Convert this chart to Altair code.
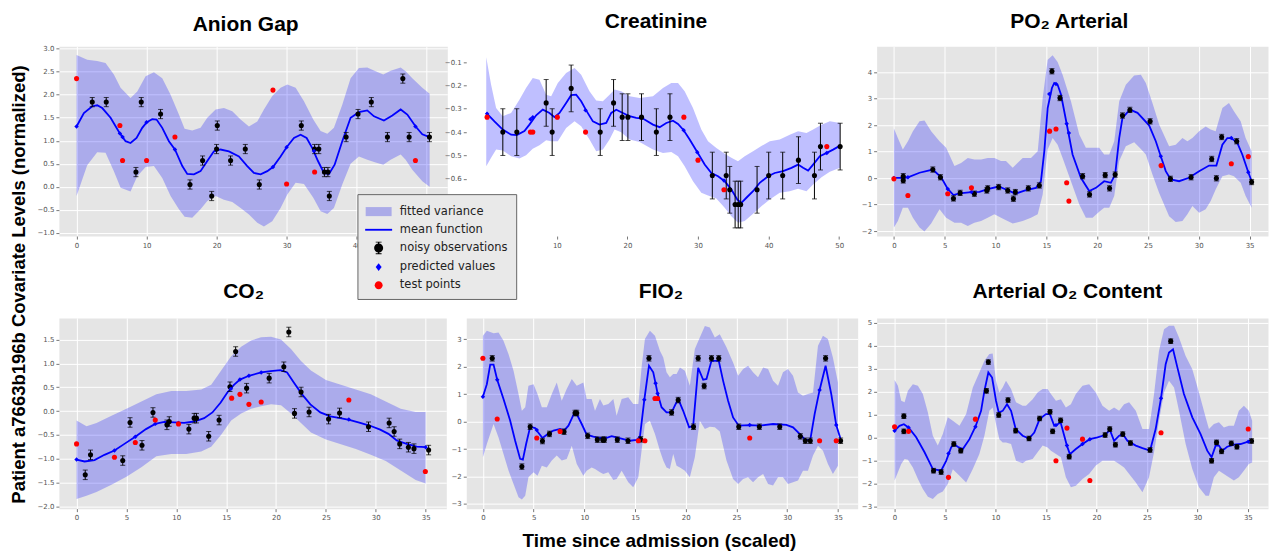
import altair as alt
import pandas as pd

ERR = 0.1

# ---------------- Anion Gap ----------------
AG_BAND_X = [0, 1.52, 2.95, 4.14, 5.33, 6.29, 7.71, 8.67, 9.86, 11.05, 12.24, 13.43, 14.62, 15.43, 16.52, 17.71, 18.67, 19.86, 21.05, 22.24, 23.43, 24.62, 25.81, 26.76, 27.95, 29.14, 30.1, 31.29, 32.48, 33.81, 34.86, 35.81, 36.76, 37.95, 39.14, 40.33, 41.52, 42.71, 43.81, 44.86, 46.29, 47.0, 47.95, 49.38, 50.43]
AG_BAND_HI = [2.86, 2.76, 2.73, 2.69, 2.44, 2.15, 1.93, 2.07, 2.40, 2.49, 2.36, 2.00, 1.57, 1.26, 1.22, 1.28, 1.50, 1.68, 1.71, 1.64, 1.46, 1.31, 1.42, 1.68, 1.97, 2.15, 2.22, 2.15, 1.86, 1.46, 1.21, 1.15, 1.28, 1.78, 2.36, 2.58, 2.59, 2.51, 2.44, 2.52, 2.59, 2.51, 2.36, 2.15, 2.02]
AG_BAND_LO = [-0.20, 0.47, 0.75, 0.74, 0.34, -0.02, -0.10, 0.23, 0.43, 0.45, 0.19, -0.20, -0.49, -0.65, -0.67, -0.49, -0.31, -0.20, -0.28, -0.33, -0.46, -0.60, -0.78, -0.86, -0.75, -0.46, -0.17, 0.09, 0.06, -0.24, -0.53, -0.59, -0.46, 0.05, 0.50, 0.66, 0.59, 0.53, 0.48, 0.59, 0.70, 0.59, 0.37, 0.12, 0.00]
AG_MEAN_X = [0, 1.05, 2.24, 2.95, 3.67, 4.86, 6.19, 7.0, 7.71, 8.57, 9.38, 10.0, 10.81, 11.43, 12.24, 13.19, 14.05, 15.1, 15.81, 16.76, 17.71, 18.67, 19.62, 20.57, 21.76, 23.19, 24.38, 25.33, 26.29, 27.24, 28.05, 29.14, 30.0, 31.05, 32.0, 32.86, 33.67, 34.48, 35.33, 36.05, 36.86, 37.95, 39.14, 40.33, 41.52, 42.48, 43.9, 45.1, 46.29, 47.24, 48.43, 49.38, 50.43]
AG_MEAN_Y = [1.31, 1.60, 1.75, 1.77, 1.71, 1.50, 1.16, 0.99, 0.95, 1.06, 1.28, 1.40, 1.47, 1.46, 1.28, 0.99, 0.81, 0.45, 0.28, 0.27, 0.34, 0.56, 0.77, 0.81, 0.77, 0.66, 0.45, 0.30, 0.27, 0.34, 0.43, 0.66, 0.86, 1.06, 1.13, 1.06, 0.84, 0.56, 0.30, 0.28, 0.48, 0.99, 1.50, 1.62, 1.66, 1.53, 1.44, 1.55, 1.68, 1.57, 1.31, 1.14, 1.08]
AG_OBS_X = [2.24, 4.24, 8.48, 9.24, 12.0, 16.2, 18.0, 19.3, 20.0, 20.1, 22.0, 24.1, 26.1, 32.1, 34.0, 34.6, 35.4, 35.9, 36.1, 38.5, 40.2, 42.1, 44.4, 46.6, 47.5, 50.4]
AG_OBS_Y = [1.84, 1.84, 0.32, 1.84, 1.58, 0.05, 0.57, -0.20, 0.82, 1.33, 0.57, 0.82, 0.05, 1.33, 0.82, 0.82, 0.32, 0.32, -0.20, 1.08, 1.58, 1.84, 1.08, 2.35, 1.08, 1.08]
AG_PRED_X = [0, 6.19, 6.57, 10.0, 14.05, 28.05, 30.0, 33.9, 48.4]
AG_PRED_Y = [1.31, 1.16, 1.08, 1.40, 0.81, 0.43, 0.86, 0.78, 1.31]
AG_TEST_X = [0, 6.19, 6.57, 10.0, 14.05, 28.05, 30.0, 34.0, 48.4]
AG_TEST_Y = [2.35, 1.33, 0.57, 0.57, 1.08, 2.10, 0.06, 0.32, 0.57]

# ---------------- Creatinine ----------------
CR_BAND_X = [0, 0.69, 1.4, 2.34, 3.52, 4.7, 5.64, 6.59, 7.54, 8.49, 9.2, 10.14, 11.32, 12.51, 13.45, 14.63, 15.58, 16.52, 17.47, 18.18, 19.12, 20.31, 21.73, 23.62, 25.04, 26.22, 27.17, 28.11, 29.29, 30.47, 31.42, 32.6, 33.78, 34.73, 35.67, 36.62, 37.8, 38.98, 40.17, 41.58, 43.0, 44.18, 45.37, 46.31, 47.5, 48.68, 50.14]
CR_BAND_HI = [-0.080, -0.197, -0.297, -0.332, -0.318, -0.261, -0.211, -0.168, -0.176, -0.240, -0.247, -0.190, -0.147, -0.126, -0.154, -0.225, -0.265, -0.268, -0.240, -0.218, -0.225, -0.247, -0.254, -0.247, -0.211, -0.190, -0.190, -0.225, -0.297, -0.389, -0.439, -0.468, -0.493, -0.510, -0.525, -0.503, -0.482, -0.460, -0.439, -0.432, -0.411, -0.396, -0.404, -0.389, -0.368, -0.354, -0.361]
CR_BAND_LO = [-0.546, -0.510, -0.475, -0.479, -0.503, -0.513, -0.499, -0.471, -0.456, -0.435, -0.439, -0.439, -0.382, -0.354, -0.375, -0.432, -0.482, -0.475, -0.432, -0.389, -0.401, -0.432, -0.442, -0.475, -0.489, -0.485, -0.503, -0.546, -0.610, -0.660, -0.671, -0.684, -0.724, -0.760, -0.788, -0.781, -0.750, -0.717, -0.689, -0.660, -0.653, -0.642, -0.653, -0.624, -0.593, -0.570, -0.553]
CR_MEAN_X = [0, 1.16, 2.34, 3.52, 4.33, 5.41, 6.12, 7.07, 8.01, 8.96, 9.67, 10.38, 11.32, 12.03, 12.74, 13.45, 14.16, 15.11, 16.05, 17.0, 17.71, 18.42, 19.36, 20.31, 21.25, 22.2, 23.62, 24.57, 25.51, 26.46, 27.17, 27.97, 28.82, 29.91, 30.95, 31.9, 32.84, 33.78, 34.73, 35.58, 36.15, 36.86, 37.8, 38.75, 39.93, 40.87, 42.06, 43.24, 44.18, 44.89, 45.6, 46.31, 47.26, 48.25, 49.14, 50.14]
CR_MEAN_Y = [-0.318, -0.354, -0.389, -0.411, -0.413, -0.396, -0.368, -0.328, -0.304, -0.318, -0.336, -0.318, -0.275, -0.242, -0.240, -0.268, -0.307, -0.354, -0.368, -0.361, -0.318, -0.304, -0.318, -0.332, -0.339, -0.342, -0.368, -0.379, -0.361, -0.351, -0.365, -0.392, -0.432, -0.486, -0.539, -0.575, -0.589, -0.610, -0.646, -0.689, -0.703, -0.681, -0.653, -0.617, -0.589, -0.575, -0.567, -0.553, -0.539, -0.553, -0.565, -0.539, -0.503, -0.489, -0.475, -0.458]
CR_OBS_X = [2.35, 4.33, 8.49, 9.34, 12.03, 16.15, 18.04, 19.26, 20.07, 22.0, 24.1, 26.03, 32.03, 34.0, 34.5, 35.26, 35.7, 36.05, 38.37, 40.02, 42.0, 44.23, 46.5, 47.35, 50.14]
CR_OBS_Y = [-0.40, -0.40, -0.275, -0.40, -0.213, -0.40, -0.275, -0.336, -0.336, -0.336, -0.40, -0.336, -0.586, -0.586, -0.647, -0.71, -0.71, -0.71, -0.647, -0.586, -0.586, -0.52, -0.586, -0.462, -0.462]
CR_PRED_X = [0.12, 6.26, 6.6, 10.07, 14.07, 27.97, 29.9, 33.68, 48.25]
CR_PRED_Y = [-0.321, -0.345, -0.336, -0.336, -0.307, -0.392, -0.486, -0.607, -0.489]
CR_TEST_X = [0.12, 6.26, 6.6, 10.07, 14.07, 28.0, 30.0, 33.68, 48.25]
CR_TEST_Y = [-0.336, -0.40, -0.40, -0.336, -0.40, -0.336, -0.52, -0.647, -0.462]

# ---------------- PO2 Arterial ----------------
PO_BAND_X = [0, 0.39, 0.88, 1.38, 1.87, 2.52, 3.01, 3.67, 4.49, 5.14, 5.96, 6.61, 7.27, 7.92, 8.58, 9.23, 9.89, 10.54, 11.03, 11.69, 12.67, 13.49, 14.15, 14.64, 15.13, 15.62, 16.11, 16.6, 17.42, 18.24, 18.89, 19.55, 20.2, 20.69, 21.19, 21.68, 22.17, 22.82, 23.64, 24.3, 24.79, 25.44, 26.1, 27.08, 27.73, 28.39, 28.88, 29.37, 30.03, 30.68, 31.17, 31.66, 32.32, 32.97, 33.46, 34.12, 34.61, 35.2]
PO_BAND_HI = [1.87, 1.51, 1.08, 1.39, 1.77, 2.14, 2.17, 1.77, 1.39, 1.14, 0.45, 0.57, 0.76, 0.70, 0.70, 0.76, 0.76, 0.64, 0.64, 0.39, 0.76, 0.76, 1.01, 3.02, 4.46, 4.63, 4.38, 3.90, 2.90, 1.64, 1.14, 1.14, 1.14, 0.89, 0.89, 1.39, 2.90, 3.52, 3.87, 3.90, 3.59, 2.83, 2.02, 1.20, 1.26, 1.51, 1.39, 1.51, 1.77, 1.95, 1.83, 1.77, 2.64, 2.83, 2.52, 2.14, 1.51, 1.01]
PO_BAND_LO = [-1.87, -1.62, -1.12, -1.12, -1.50, -1.87, -2.02, -1.72, -1.18, -1.50, -1.69, -1.69, -1.81, -1.69, -1.62, -1.50, -1.37, -1.50, -1.59, -1.72, -1.62, -1.50, -1.37, -0.62, 1.08, 1.51, 1.26, 0.76, -0.12, -1.00, -1.50, -1.50, -1.27, -1.12, -1.12, -0.68, 0.64, 1.20, 1.35, 1.10, 0.89, 0.13, -0.56, -1.44, -1.66, -1.62, -1.37, -1.06, -1.31, -1.18, -0.87, -0.43, 0.07, 0.13, 0.07, -0.18, -0.68, -1.12]
PO_MEAN_X = [0, 0.88, 1.38, 2.52, 3.83, 4.65, 5.3, 5.86, 6.45, 7.63, 8.42, 9.23, 10.31, 11.2, 11.95, 13.0, 13.98, 14.47, 14.8, 15.13, 15.55, 15.78, 16.11, 16.44, 17.0, 17.58, 18.4, 19.22, 19.88, 20.69, 21.35, 21.77, 22.17, 22.49, 23.22, 23.97, 25.11, 25.77, 26.26, 26.75, 27.24, 28.06, 29.04, 30.03, 31.01, 31.73, 32.32, 32.81, 33.2, 33.79, 34.28, 34.87, 35.2]
PO_MEAN_Y = [0.01, 0.01, 0.03, 0.20, 0.32, 0.03, -0.41, -0.64, -0.58, -0.53, -0.52, -0.42, -0.32, -0.46, -0.59, -0.46, -0.37, -0.12, 1.01, 2.64, 3.40, 3.59, 3.52, 3.15, 2.05, 0.89, 0.01, -0.49, -0.37, -0.12, -0.18, 0.13, 1.51, 2.27, 2.58, 2.46, 1.99, 1.39, 0.82, 0.26, -0.05, -0.12, 0.01, 0.26, 0.47, 0.47, 1.26, 1.51, 1.51, 1.33, 0.89, 0.22, -0.12]
PO_OBS_X = [0.92, 0.92, 3.83, 4.58, 5.86, 6.52, 7.92, 9.14, 9.23, 10.31, 11.2, 11.76, 11.95, 13.23, 14.31, 15.55, 16.34, 18.57, 19.25, 20.79, 21.22, 21.77, 22.49, 23.22, 25.21, 27.21, 29.24, 31.27, 31.73, 32.25, 33.73, 35.2]
PO_OBS_Y = [0.07, -0.09, 0.32, 0.03, -0.77, -0.56, -0.59, -0.47, -0.39, -0.34, -0.47, -0.78, -0.53, -0.39, -0.28, 4.03, 3.02, 0.07, -0.62, 0.11, -0.39, 0.13, 2.36, 2.57, 2.14, -0.03, 0.03, 0.72, -0.01, 1.55, 1.39, -0.15]
PO_PRED_X = [0, 1.38, 5.3, 7.63, 15.29, 15.95, 17.0, 17.22, 26.26, 33.2, 34.87]
PO_PRED_Y = [0.0, 0.03, -0.41, -0.53, 3.17, 3.55, 2.05, 1.70, 0.82, 1.51, 0.22]
PO_TEST_X = [0, 1.38, 5.3, 7.63, 15.32, 15.95, 17.0, 17.22, 26.29, 33.2, 34.87]
PO_TEST_Y = [-0.03, -0.66, -0.59, -0.37, 1.77, 1.85, -0.18, -0.87, 0.47, 0.54, 0.81]

# ---------------- CO2 ----------------
CO_BAND_X = [0, 1, 2, 3.5, 5, 6.5, 8, 9.5, 11, 12.5, 13.5, 14.5, 15.5, 16.5, 17.5, 18.5, 19.5, 20.5, 21.5, 22.5, 23.5, 25, 26.5, 28, 29.5, 31, 32.5, 34, 35]
CO_BAND_HI = [-0.20, -0.32, -0.25, -0.10, 0.05, 0.20, 0.35, 0.42, 0.42, 0.45, 0.55, 0.85, 1.15, 1.35, 1.48, 1.55, 1.56, 1.50, 1.30, 1.05, 0.85, 0.65, 0.55, 0.45, 0.35, 0.20, 0.05, -0.02, -0.02]
CO_BAND_LO = [-1.85, -1.78, -1.70, -1.55, -1.38, -1.18, -0.95, -0.90, -0.90, -0.85, -0.75, -0.50, -0.20, -0.05, 0.05, 0.10, 0.14, 0.12, -0.05, -0.25, -0.45, -0.60, -0.70, -0.80, -0.92, -1.05, -1.25, -1.45, -1.52]
CO_MEAN_X = [0, 0.8, 1.8, 2.8, 3.8, 4.8, 5.89, 6.96, 7.89, 8.79, 9.79, 10.79, 11.79, 12.79, 13.62, 14.45, 15.12, 15.78, 16.38, 17.28, 18.51, 19.45, 20.45, 21.11, 21.78, 22.61, 23.44, 24.44, 25.44, 26.44, 27.44, 28.44, 29.44, 30.44, 31.27, 32.1, 33.1, 34.1, 35.0]
CO_MEAN_Y = [-1.02, -1.06, -1.03, -0.92, -0.83, -0.69, -0.54, -0.38, -0.27, -0.23, -0.24, -0.25, -0.22, -0.15, -0.03, 0.18, 0.39, 0.55, 0.66, 0.74, 0.81, 0.84, 0.86, 0.81, 0.60, 0.35, 0.14, -0.03, -0.11, -0.15, -0.19, -0.25, -0.31, -0.39, -0.48, -0.62, -0.69, -0.75, -0.76]
CO_OBS_X = [0.87, 1.40, 4.63, 5.36, 6.56, 7.66, 9.06, 9.29, 11.26, 11.79, 12.02, 13.25, 14.29, 15.38, 15.95, 17.05, 19.31, 20.78, 21.28, 21.85, 22.51, 23.31, 25.27, 26.37, 29.27, 31.34, 31.84, 32.4, 33.27, 33.83, 35.3]
CO_OBS_Y = [-1.34, -0.92, -1.04, -0.24, -0.72, -0.03, -0.29, -0.22, -0.38, -0.15, -0.15, -0.53, -0.19, 0.51, 1.25, 0.48, 0.69, 0.93, 1.66, -0.05, 0.40, -0.02, -0.17, -0.04, -0.33, -0.25, -0.43, -0.69, -0.76, -0.79, -0.82]
CO_PRED_X = [0, 3.8, 5.89, 7.89, 10.22, 15.48, 16.38, 17.28, 18.51, 27.3, 35.0]
CO_PRED_Y = [-1.02, -0.83, -0.54, -0.27, -0.25, 0.47, 0.66, 0.74, 0.81, -0.18, -0.76]
CO_TEST_X = [0, 3.8, 5.89, 7.89, 10.22, 15.55, 16.38, 17.28, 18.51, 27.3, 34.97]
CO_TEST_Y = [-0.69, -0.97, -0.66, -0.19, -0.27, 0.27, 0.35, 0.14, 0.19, 0.23, -1.27]

# ---------------- FIO2 ----------------
FI_BAND_X = [0, 0.39, 1.05, 1.54, 2.03, 2.53, 3.02, 3.51, 3.84, 4.17, 4.49, 4.99, 5.38, 5.81, 6.3, 6.79, 7.28, 7.77, 8.26, 8.76, 9.25, 9.9, 10.23, 10.72, 11.05, 11.54, 11.87, 12.36, 12.86, 13.18, 13.68, 14.33, 14.82, 15.32, 15.64, 15.97, 16.46, 16.96, 17.45, 17.78, 18.1, 18.43, 18.76, 19.09, 19.42, 19.91, 20.4, 20.89, 21.38, 21.88, 22.37, 22.86, 23.35, 24.01, 24.66, 25.16, 25.65, 26.14, 26.63, 27.12, 27.62, 28.11, 28.6, 29.09, 29.58, 30.07, 30.57, 31.06, 31.55, 32.04, 32.54, 33.03, 33.52, 34.01, 34.5, 35.0]
FI_BAND_HI = [3.12, 3.30, 3.21, 3.24, 2.94, 2.45, 1.85, 1.0, 0.39, 0.52, 1.30, 1.36, 1.0, 0.52, 0.52, 1.0, 1.42, 0.76, 1.18, 1.55, 1.30, 1.42, 0.82, 0.82, 0.39, 0.82, 0.58, 0.64, 0.82, 0.21, 0.82, 0.88, 0.64, 0.64, 1.97, 3.0, 3.30, 3.12, 2.58, 2.33, 1.79, 1.61, 1.73, 1.73, 1.97, 1.85, 1.30, 2.64, 3.06, 3.48, 3.42, 3.06, 3.18, 2.70, 2.15, 1.67, 1.91, 2.03, 1.79, 1.61, 1.97, 1.91, 1.48, 1.30, 1.79, 1.91, 1.67, 1.06, 0.94, 1.0, 1.06, 2.76, 3.12, 3.0, 2.33, 1.42]
FI_BAND_LO = [-1.30, -0.82, -0.09, -0.58, -1.18, -1.79, -2.27, -2.76, -2.84, -2.70, -2.03, -1.85, -1.97, -1.61, -1.67, -1.42, -1.24, -1.42, -1.36, -0.88, -1.55, -1.97, -1.79, -1.67, -1.73, -1.85, -1.91, -1.85, -2.13, -2.09, -1.79, -2.21, -2.39, -2.03, -1.06, -0.09, 0.03, -0.45, -1.06, -1.42, -1.67, -1.73, -1.18, -1.61, -1.67, -1.79, -2.03, -1.30, 0.03, -0.27, -0.19, -0.21, -0.36, -1.42, -2.09, -2.27, -2.09, -2.03, -2.21, -2.03, -1.91, -2.27, -2.33, -2.03, -2.03, -2.27, -2.21, -2.15, -1.79, -1.79, -1.24, -0.88, -1.06, -1.55, -1.91, -1.61]
FI_MEAN_X = [0, 0.39, 0.72, 1.05, 1.41, 2.03, 2.69, 3.18, 3.67, 3.94, 4.26, 4.66, 5.15, 5.38, 5.87, 6.3, 6.95, 7.61, 8.0, 8.43, 8.92, 9.25, 9.74, 10.23, 10.89, 11.54, 12.2, 12.69, 13.18, 13.84, 14.5, 15.15, 15.48, 15.91, 16.37, 16.79, 17.02, 17.22, 17.61, 18.1, 18.6, 18.92, 19.25, 19.74, 20.33, 20.73, 21.22, 21.71, 22.04, 22.53, 23.25, 23.68, 24.17, 24.66, 25.22, 26.3, 27.29, 28.6, 29.91, 30.57, 31.22, 31.78, 32.27, 32.7, 33.19, 33.78, 34.34, 34.83, 35.26]
FI_MEAN_Y = [0.90, 1.36, 2.07, 2.07, 1.52, 0.82, 0.03, -0.70, -1.36, -1.39, -0.82, -0.19, -0.24, -0.36, -0.60, -0.48, -0.33, -0.27, -0.33, -0.15, 0.24, 0.27, -0.09, -0.48, -0.55, -0.60, -0.59, -0.53, -0.58, -0.64, -0.70, -0.67, -0.55, 0.79, 2.03, 1.79, 1.39, 1.02, 0.52, 0.33, 0.33, 0.58, 0.82, 0.39, -0.21, -0.15, 1.95, 1.52, 1.55, 2.21, 2.21, 1.48, 0.76, 0.15, -0.15, -0.13, -0.15, -0.09, -0.12, -0.21, -0.45, -0.67, -0.67, 0.27, 1.15, 2.03, 1.0, -0.13, -0.64]
FI_OBS_X = [0.92, 3.84, 4.66, 5.87, 6.56, 8.0, 9.08, 9.25, 10.33, 11.28, 11.81, 11.97, 13.25, 14.3, 15.55, 16.37, 18.6, 19.25, 20.76, 21.22, 21.81, 22.53, 23.25, 25.22, 27.25, 29.26, 31.29, 31.78, 32.27, 33.78, 35.26]
FI_OBS_Y = [2.30, -1.64, -0.19, -0.71, -0.45, -0.37, 0.31, 0.31, -0.52, -0.66, -0.66, -0.66, -0.66, -0.70, -0.65, 2.30, 0.33, 0.78, -0.19, 2.30, 1.29, 2.30, 2.30, -0.19, -0.19, -0.19, -0.54, -0.70, -0.70, 2.30, -0.70]
FI_PRED_X = [0, 1.41, 5.31, 7.61, 15.32, 15.91, 17.02, 17.22, 26.3, 33.19, 34.83]
FI_PRED_Y = [0.90, 1.52, -0.31, -0.33, -0.68, 0.79, 1.39, 1.02, -0.13, 1.15, -0.13]
FI_TEST_X = [0, 1.41, 5.31, 7.61, 15.32, 15.97, 16.96, 17.22, 26.3, 33.19, 34.83]
FI_TEST_Y = [2.30, 0.09, -0.60, -0.36, -0.70, -0.70, 0.84, 0.84, -0.60, -0.70, -0.70]

# ---------------- Arterial O2 Content ----------------
AO_BAND_X = [0, 0.33, 0.66, 0.99, 1.32, 1.81, 2.31, 2.8, 3.3, 3.79, 4.28, 4.78, 5.27, 5.77, 6.43, 7.09, 7.75, 8.4, 8.9, 9.39, 9.72, 10.05, 10.38, 10.71, 11.04, 11.54, 12.03, 12.69, 13.02, 13.68, 14.17, 14.67, 15.16, 15.49, 15.99, 16.48, 16.97, 17.47, 17.96, 18.62, 19.28, 19.94, 20.6, 21.26, 21.75, 22.25, 22.74, 23.24, 23.9, 24.56, 25.21, 25.71, 26.2, 26.7, 27.19, 27.69, 28.18, 28.84, 29.5, 30.16, 30.82, 31.15, 31.64, 32.14, 32.63, 33.12, 33.62, 34.11, 34.61, 35.1, 35.43]
AO_BAND_HI = [2.50, 2.25, 1.60, 1.53, 2.03, 2.32, 2.25, 1.89, 1.09, 0.08, -0.35, 0.15, 0.88, 0.73, 0.51, 1.02, 2.18, 2.83, 3.34, 3.63, 3.65, 2.47, 1.96, 2.18, 2.47, 2.11, 1.53, 1.38, 1.38, 1.67, 1.96, 2.11, 2.11, 1.89, 1.60, 1.67, 1.31, 1.45, 1.89, 2.25, 2.32, 1.96, 1.38, 1.16, 1.31, 1.16, 1.45, 1.53, 1.16, 0.37, 0.37, 1.89, 3.77, 4.71, 4.86, 4.86, 4.35, 3.55, 2.97, 1.96, 0.88, 0.37, 0.59, 0.66, 0.44, 0.51, 0.51, 1.16, 1.38, 1.16, 0.73]
AO_BAND_LO = [-1.87, -1.51, -1.15, -0.93, -0.96, -1.30, -1.80, -2.24, -2.57, -2.67, -2.45, -2.35, -2.02, -1.38, -1.66, -1.95, -1.37, -0.72, 0.08, 1.16, 1.31, 0.59, -0.07, -0.21, -0.21, -0.28, -1.01, -1.12, -1.01, -0.93, -0.64, -0.35, -0.43, -0.57, -0.72, -0.86, -1.73, -2.16, -2.09, -1.80, -1.58, -1.22, -1.01, -1.01, -1.01, -1.15, -1.30, -1.58, -1.95, -2.38, -1.73, -0.64, 0.73, 1.96, 2.47, 2.18, 1.16, -0.28, -1.37, -2.16, -2.53, -2.53, -1.73, -1.44, -1.58, -1.73, -1.87, -1.73, -1.44, -1.15, -1.08]
AO_MEAN_X = [0, 0.49, 0.92, 1.38, 2.14, 2.97, 3.79, 4.61, 5.11, 5.6, 5.87, 6.36, 6.76, 7.42, 8.01, 8.57, 8.9, 9.29, 9.66, 10.05, 10.32, 10.71, 11.14, 11.54, 12.0, 12.69, 13.32, 13.84, 14.37, 15.0, 15.39, 15.82, 16.15, 16.45, 16.81, 17.07, 17.37, 17.96, 18.62, 19.35, 20.1, 20.86, 21.33, 21.75, 22.25, 22.61, 23.07, 23.9, 24.56, 25.31, 25.87, 26.4, 26.86, 27.19, 27.59, 28.02, 28.67, 29.5, 30.32, 30.98, 31.41, 31.81, 32.14, 32.47, 32.96, 33.62, 34.28, 35.04, 35.37]
AO_MEAN_Y = [0.30, 0.51, 0.58, 0.44, 0.01, -0.64, -1.37, -1.44, -1.01, -0.43, -0.28, -0.43, -0.50, -0.07, 0.47, 1.16, 2.03, 2.83, 2.61, 1.60, 1.09, 1.16, 1.45, 1.16, 0.37, 0.08, -0.04, 0.22, 0.80, 1.02, 1.02, 0.51, 0.58, 0.66, 0.08, -0.35, -0.72, -0.50, -0.28, -0.07, 0.01, 0.11, 0.33, -0.14, 0.08, 0.15, -0.14, -0.35, -0.46, -0.57, 0.37, 1.71, 3.19, 3.70, 3.84, 3.05, 1.89, 0.88, 0.15, -0.57, -0.86, -0.35, -0.35, -0.57, -0.40, -0.31, -0.28, -0.18, -0.14]
AO_OBS_X = [0.92, 0.92, 3.86, 4.61, 5.87, 6.56, 9.10, 9.29, 10.32, 11.24, 12.0, 13.32, 14.37, 15.4, 15.66, 16.45, 17.3, 20.86, 21.32, 21.88, 22.61, 23.37, 25.31, 27.36, 31.41, 31.9, 32.4, 33.36, 33.92, 35.37]
AO_OBS_Y = [0.93, 0.27, -1.44, -1.50, -0.28, -0.57, 2.03, 3.28, 0.98, 1.63, 0.30, -0.04, 0.83, 1.12, 0.27, 0.75, -0.83, 0.11, 0.37, -0.31, 0.15, -0.24, -0.54, 4.19, -1.01, -0.21, -0.60, -0.25, -0.40, -0.15]
AO_PRED_X = [0, 1.38, 5.34, 8.01, 15.99, 17.08, 18.62, 19.35, 26.4, 35.04]
AO_PRED_Y = [0.30, 0.44, -0.69, 0.47, 0.54, -0.35, -0.28, -0.07, 1.71, -0.18]
AO_TEST_X = [0, 1.38, 5.34, 8.01, 15.99, 17.08, 18.62, 19.35, 26.4, 35.04]
AO_TEST_Y = [0.47, 0.27, -1.73, 0.80, -1.01, 0.41, -0.07, -1.87, 0.21, 0.37]

# ---------------- legend ----------------
LEG_LABELS = ["fitted variance", "mean function", "noisy observations", "predicted values", "test points"]
LEG_COLORS = ["#ABABE8", "#0000FF", "#000000", "#0000FF", "#FF0000"]
LEG_SHAPES = [
    "M-1.0,-0.49H1.81V0.49H-1.0Z",
    "M-1.055,-0.1H1.865V0.1H-1.055Z",
    "M0.895,0A0.49,0.49,0,1,1,-0.085,0A0.49,0.49,0,1,1,0.895,0ZM0.325,-0.68H0.485V0.68H0.325ZM0.085,-0.68H0.725V-0.58H0.085ZM0.085,0.58H0.725V0.68H0.085Z",
    "M0.405,-0.43L0.725,0L0.405,0.43L0.085,0Z",
    "M0.835,0A0.43,0.43,0,1,1,-0.025,0A0.43,0.43,0,1,1,0.835,0Z",
]

FONT = "Liberation Sans"


def panel(title, band, mean, obs, pred, test, xdom, ydom, xticks, yticks, yfmt,
          w, h, tdx, toff, yaxis_extra=None, xaxis_extra=None, legend=False):
    xa = dict(values=xticks, format="d", title=None)
    xa.update(xaxis_extra or {})
    ya = dict(values=yticks, format=yfmt, title=None)
    ya.update(yaxis_extra or {})
    xaxis = alt.Axis(**xa)
    yaxis = alt.Axis(**ya)
    xs = alt.Scale(domain=xdom, nice=False, zero=False)
    ys = alt.Scale(domain=ydom, nice=False, zero=False)

    def X():
        return alt.X("x:Q", scale=xs, axis=xaxis)

    def Y(f):
        return alt.Y(f + ":Q", scale=ys, axis=yaxis)

    band_df = pd.DataFrame({"x": band[0], "lo": band[1], "hi": band[2]})
    mean_df = pd.DataFrame({"x": mean[0], "y": mean[1]})
    obs_df = pd.DataFrame({"x": obs[0], "y": obs[1]})
    obs_df["ylo"] = obs_df["y"] - ERR
    obs_df["yhi"] = obs_df["y"] + ERR
    pred_df = pd.DataFrame({"x": pred[0], "y": pred[1]})
    test_df = pd.DataFrame({"x": test[0], "y": test[1]})

    area = alt.Chart(band_df).mark_area(color="#0000FF", opacity=0.25).encode(
        x=X(), y=Y("hi"), y2=alt.Y2("lo"))
    line = alt.Chart(mean_df).mark_line(color="#0000FF", strokeWidth=1.8).encode(
        x=X(), y=Y("y"))
    bars = alt.Chart(obs_df).mark_rule(color="black", strokeWidth=1).encode(
        x=X(), y=Y("ylo"), y2=alt.Y2("yhi"))
    cap_lo = alt.Chart(obs_df).mark_tick(orient="horizontal", size=5, thickness=1, color="black").encode(
        x=X(), y=Y("ylo"))
    cap_hi = alt.Chart(obs_df).mark_tick(orient="horizontal", size=5, thickness=1, color="black").encode(
        x=X(), y=Y("yhi"))
    pts = alt.Chart(obs_df).mark_circle(color="black", size=26, opacity=1).encode(
        x=X(), y=Y("y"))
    prd = alt.Chart(pred_df).mark_point(shape="diamond", filled=True, color="#0000FF", size=20, opacity=1).encode(
        x=X(), y=Y("y"))
    tst = alt.Chart(test_df).mark_circle(color="#FF0000", size=26, opacity=1).encode(
        x=X(), y=Y("y"))
    layers = [area, line, bars, cap_lo, cap_hi, pts, prd, tst]
    if legend:
        leg = alt.Legend(
            title=None, orient="none", legendX=299, legendY=148, direction="vertical",
            symbolSize=342, symbolStrokeWidth=0, symbolOpacity=1,
            labelFont="DejaVu Sans", labelFontSize=11.5, labelColor="#222222",
            labelOffset=15.5, padding=8, rowPadding=3.2, labelLimit=300,
            fillColor="#E9E9E9", strokeColor="#666666", cornerRadius=0)
        leg_df = pd.DataFrame({"item": LEG_LABELS})
        dummy = alt.Chart(leg_df).mark_point(filled=True, opacity=0).encode(
            color=alt.Color("item:N", scale=alt.Scale(domain=LEG_LABELS, range=LEG_COLORS), legend=leg),
            shape=alt.Shape("item:N", scale=alt.Scale(domain=LEG_LABELS, range=LEG_SHAPES), legend=leg),
        )
        layers.append(dummy)
    return alt.layer(*layers).properties(
        width=w, height=h,
        title=alt.TitleParams(title, dx=tdx, offset=toff))


X50 = [0, 10, 20, 30, 40, 50]
X35 = [0, 5, 10, 15, 20, 25, 30, 35]

p1 = panel("Anion Gap",
           (AG_BAND_X, AG_BAND_LO, AG_BAND_HI), (AG_MEAN_X, AG_MEAN_Y), (AG_OBS_X, AG_OBS_Y),
           (AG_PRED_X, AG_PRED_Y), (AG_TEST_X, AG_TEST_Y),
           [-2.52, 52.95], [-1.07, 3.05], X50, [-1.0, -0.5, 0.0, 0.5, 1.0, 1.5, 2.0, 2.5, 3.0], ".1f",
           389, 190, -7.5, 9.5,
           yaxis_extra=dict(title="Patient a7663b196b Covariate Levels (normalized)",
                            titleX=-40, titleY=238, titleAngle=270, titleAlign="center",
                            titleBaseline="middle", titleFontSize=18.5))
p2 = panel("Creatinine",
           (CR_BAND_X, CR_BAND_LO, CR_BAND_HI), (CR_MEAN_X, CR_MEAN_Y), (CR_OBS_X, CR_OBS_Y),
           (CR_PRED_X, CR_PRED_Y), (CR_TEST_X, CR_TEST_Y),
           [-2.83, 52.62], [-0.845, -0.033], X50, [-0.8, -0.7, -0.6, -0.5, -0.4, -0.3, -0.2, -0.1], ".1f",
           392, 190, -6, 14, legend=True)
p3 = panel("PO₂ Arterial",
           (PO_BAND_X, PO_BAND_LO, PO_BAND_HI), (PO_MEAN_X, PO_MEAN_Y), (PO_OBS_X, PO_OBS_Y),
           (PO_PRED_X, PO_PRED_Y), (PO_TEST_X, PO_TEST_Y),
           [-1.70, 36.81], [-2.19, 4.97], X35, [-2, -1, 0, 1, 2, 3, 4], "d",
           392, 190, -3, 14)
p4 = panel("CO₂",
           (CO_BAND_X, CO_BAND_LO, CO_BAND_HI), (CO_MEAN_X, CO_MEAN_Y), (CO_OBS_X, CO_OBS_Y),
           (CO_PRED_X, CO_PRED_Y), (CO_TEST_X, CO_TEST_Y),
           [-1.77, 37.07], [-2.05, 1.955], X35, [-2.0, -1.5, -1.0, -0.5, 0.0, 0.5, 1.0, 1.5], ".1f",
           388, 191, -9, 15.5)
p5 = panel("FIO₂",
           (FI_BAND_X, FI_BAND_LO, FI_BAND_HI), (FI_MEAN_X, FI_MEAN_Y), (FI_OBS_X, FI_OBS_Y),
           (FI_PRED_X, FI_PRED_Y), (FI_TEST_X, FI_TEST_Y),
           [-1.64, 36.94], [-3.17, 3.77], X35, [-3, -2, -1, 0, 1, 2, 3], "d",
           392, 191, -1, 15.5,
           xaxis_extra=dict(title="Time since admission (scaled)", titleX=193, titleY=38,
                            titleAngle=0, titleAlign="center", titleBaseline="alphabetic",
                            titleFontSize=19))
p6 = panel("Arterial O₂ Content",
           (AO_BAND_X, AO_BAND_LO, AO_BAND_HI), (AO_MEAN_X, AO_MEAN_Y), (AO_OBS_X, AO_OBS_Y),
           (AO_PRED_X, AO_PRED_Y), (AO_TEST_X, AO_TEST_Y),
           [-1.78, 37.0], [-3.09, 5.2], X35, [-3, -2, -1, 0, 1, 2, 3, 4, 5], "d",
           392, 191, -5, 15.5)

chart = alt.concat(
    p1, p2, p3, p4, p5, p6, columns=3,
    spacing={"row": 82, "column": 19}, bounds="flush", align="each"
).properties(
    padding={"left": 9, "top": 10, "right": 0, "bottom": 0}
).configure_view(
    fill="#E5E5E5", stroke="transparent"
).configure_axis(
    domain=False, grid=True, gridColor="#FFFFFF", gridWidth=1,
    labelFont="DejaVu Sans", labelFontSize=7, labelColor="#555555",
    tickColor="#555555", tickSize=3, tickWidth=0.8, labelPadding=2,
    titleFont=FONT, titleFontWeight="bold", titleColor="#000000"
).configure_title(
    font=FONT, fontSize=21, fontWeight="bold", color="#000000",
    anchor="middle", frame="group"
)

chart.save("out.html", embed_options={"renderer": "svg", "actions": False})
